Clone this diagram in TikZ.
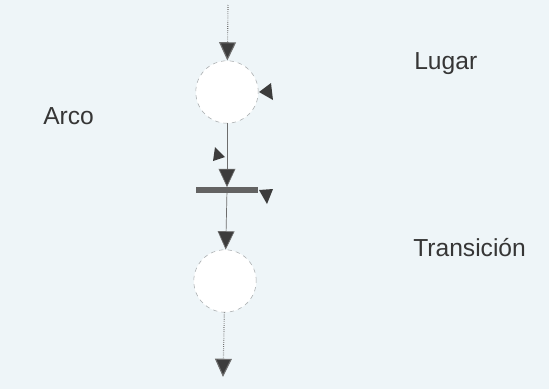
\documentclass[tikz,border=0pt]{standalone}
\usepackage{fontspec}
\setmainfont{Liberation Sans}
\usetikzlibrary{positioning, arrows.meta}
\definecolor{paper}{HTML}{EEF5F8}
\definecolor{ink}{HTML}{3C3C3C}
\definecolor{rim}{HTML}{A8ACAE}

\begin{document}
\begin{tikzpicture}[
    x=0.025cm, y=-0.025cm,
    place/.style={circle, draw=rim, dashed, fill=white, minimum size=1.56cm, inner sep=0pt},
    trans/.style={rectangle, fill=ink!80, minimum width=1.55cm, minimum height=0.13cm, inner sep=0pt},
    arc/.style={draw=ink!75, line width=0.5pt, -{Triangle[width=12pt,length=13pt,fill=ink]}},
    dotarc/.style={arc, densely dotted, line width=0.8pt},
    pointer/.style={fill=ink},
    label/.style={font=\fontsize{17.5}{20}\selectfont, text=ink!90!black, anchor=west, inner sep=0pt}
]
    % background
    \fill[paper] (0,0) rectangle (549,389);
    \useasboundingbox (0,0) rectangle (549,389);

    % places and transition
    \node[place] (p1) at (227,92) {};
    \node[trans] (t1) at (227,190) {};
    \node[place] (p2) at (225,281) {};
    \coordinate (in) at (228,5);
    \coordinate (out) at (223,377);

    % arcs
    \draw[dotarc] (in) -- (p1);
    \draw[arc] (p1) -- (t1);
    \draw[arc] (t1) -- (p2);
    \draw[dotarc] (p2) -- (out);

    % labels
    \node[label] (lugar) at (414,64) {Lugar};
    \node[label] (arco) at (43,116) {Arco};
    \node[label] (trans) at (413,248) {Transición};

    % small pointers
    \fill[pointer] (259,92) -- (271,83) -- (273,100) -- cycle;
    \fill[pointer] (225,157) -- (215,147) -- (213,161) -- cycle;
    \fill[pointer] (267,204) -- (259,190) -- (273,189) -- cycle;
\end{tikzpicture}
\end{document}
